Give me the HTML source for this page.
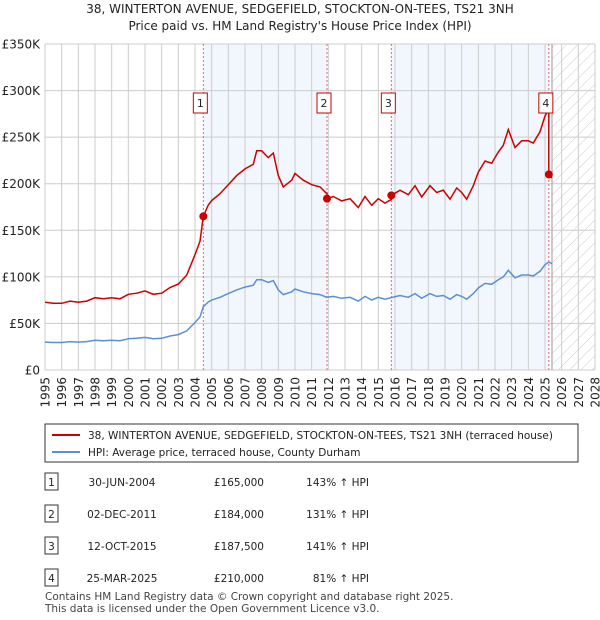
<!DOCTYPE html>
<html><head><meta charset="utf-8"><style>
body{margin:0;background:#fff;font-family:"DejaVu Sans","Liberation Sans",sans-serif;}
svg{display:block}
</style></head><body>
<svg id="chart" width="600" height="620">
<defs>
<pattern id="hatch" width="8" height="8" patternUnits="userSpaceOnUse" patternTransform="rotate(45)">
<line x1="0" y1="0" x2="0" y2="8" stroke="#ccc" stroke-width="1"/>
</pattern>
</defs>
<text x="300" y="13" text-anchor="middle" font-size="12" fill="#222">38, WINTERTON AVENUE, SEDGEFIELD, STOCKTON-ON-TEES, TS21 3NH</text>
<text x="300" y="30" text-anchor="middle" font-size="12" fill="#222">Price paid vs. HM Land Registry's House Price Index (HPI)</text>
<g id="plot"></g>
<g>
<rect x="45" y="424" width="533" height="38" fill="#fff" stroke="#333" stroke-width="1"/>
<line x1="52" y1="435" x2="80" y2="435" stroke="#cc0000" stroke-width="2"/>
<text x="88" y="439" font-size="10.5" fill="#222">38, WINTERTON AVENUE, SEDGEFIELD, STOCKTON-ON-TEES, TS21 3NH (terraced house)</text>
<line x1="52" y1="452" x2="80" y2="452" stroke="#5b8fd4" stroke-width="2"/>
<text x="88" y="456" font-size="10.5" fill="#222">HPI: Average price, terraced house, County Durham</text>
</g>
<g id="table" font-size="10.5" fill="#222"></g>
<text x="45" y="600" font-size="10.5" fill="#444">Contains HM Land Registry data © Crown copyright and database right 2025.</text>
<text x="45" y="612" font-size="10.5" fill="#444">This data is licensed under the Open Government Licence v3.0.</text>
</svg>
<script>
const hpiYears=[1995,1995.5,1996,1996.5,1997,1997.5,1998,1998.5,1999,1999.5,2000,2000.5,2001,2001.5,2002,2002.5,2003,2003.5,2004,2004.3,2004.5,2004.8,2005,2005.5,2006,2006.5,2007,2007.5,2007.7,2008,2008.4,2008.7,2009,2009.3,2009.8,2010,2010.5,2011,2011.5,2011.9,2012.3,2012.8,2013.3,2013.8,2014.2,2014.6,2015,2015.4,2015.8,2016.3,2016.8,2017.2,2017.6,2018.1,2018.5,2018.9,2019.3,2019.7,2020,2020.3,2020.7,2021,2021.4,2021.8,2022.2,2022.5,2022.8,2023.2,2023.6,2024,2024.3,2024.7,2025,2025.23,2025.42];
const hpiValues=[30,29.5,29.5,30.5,30,30.5,32,31.5,32,31.5,33.5,34,35,33.5,34,36.5,38,42,51,57,68,73,75,78,82,86,89,91,97,97,94,96,86,81,84,87,84,82,81,78,79,77,78,74,79,75,78,76,77.8,80,78,82,77,82,79,80,76,81,79,76,82,88,93,92,97,100,107,99,102,102,101,106,113,116,114];
const saleLabels=["1","2","3","4"];
const saleYears=[2004.5,2011.92,2015.78,2025.23];
const salePrices=[165000,184000,187500,210000];
const saleDates=["30-JUN-2004","02-DEC-2011","12-OCT-2015","25-MAR-2025"];
const salePriceText=["£165,000","£184,000","£187,500","£210,000"];
const saleHpiText=["143% ↑ HPI","131% ↑ HPI","141% ↑ HPI","81% ↑ HPI"];
const yTicks=[0,50,100,150,200,250,300,350];
const yTickLabels=["£0","£50K","£100K","£150K","£200K","£250K","£300K","£350K"];

const NS="http://www.w3.org/2000/svg";
const X0=45,X1=595,Y0=370,Y1=44,YR0=1995,YR1=2028,VMAX=350;
const xs=y=>X0+(y-YR0)/(YR1-YR0)*(X1-X0);
const ys=v=>Y0-v/VMAX*(Y0-Y1);
function mk(tag,attrs,parent){const e=document.createElementNS(NS,tag);for(const k in attrs)e.setAttribute(k,attrs[k]);parent.appendChild(e);return e;}
const plot=document.getElementById('plot');
function hpiAt(t){for(let i=0;i<hpiYears.length-1;i++){if(t>=hpiYears[i]&&t<=hpiYears[i+1]){const f=(t-hpiYears[i])/(hpiYears[i+1]-hpiYears[i]);return hpiValues[i]+f*(hpiValues[i+1]-hpiValues[i]);}}return hpiValues[hpiValues.length-1];}
for(let i=0;i<saleYears.length;i+=2){
 const end=i+1<saleYears.length?saleYears[i+1]:hpiYears[hpiYears.length-1];
 const r=mk('rect',{x:xs(saleYears[i]),y:Y1,width:xs(end)-xs(saleYears[i]),height:Y0-Y1,fill:'#eef3fc',opacity:0.75},plot);
 
 
}
const lastYr=hpiYears[hpiYears.length-1];
const ht=mk('rect',{x:xs(lastYr),y:Y1,width:X1-xs(lastYr),height:Y0-Y1,fill:'url(#hatch)'},plot);


for(let yr=YR0;yr<=YR1;yr++){
 const l=mk('line',{x1:xs(yr),x2:xs(yr),y1:Y1,y2:Y0,stroke:'#ccc','stroke-width':1},plot);
 
 
 const t=mk('text',{x:0,y:0,'font-size':12,fill:'#222','text-anchor':'end',transform:`translate(${xs(yr)+4.5},377) rotate(-90)`},plot);
 t.textContent=yr;
 
 
}
yTicks.forEach((v,i)=>{
 const l=mk('line',{x1:X0,x2:X1,y1:ys(v),y2:ys(v),stroke:'#ccc','stroke-width':1},plot);
 
 
 const t=mk('text',{x:40,y:ys(v)+4.5,'font-size':12,fill:'#222','text-anchor':'end'},plot);
 t.textContent=yTickLabels[i];
 
 
});
const dl=mk('line',{x1:xs(lastYr),x2:xs(lastYr),y1:Y1,y2:Y0,stroke:'#999','stroke-width':1},plot);


saleYears.forEach(s=>{
 const l=mk('line',{x1:xs(s),x2:xs(s),y1:Y1,y2:Y0,stroke:'#f06070','stroke-width':1,'stroke-dasharray':'2,2'},plot);
 
 
});
const hp=mk('path',{d:hpiYears.map((y,i)=>(i?'L':'M')+xs(y).toFixed(1)+','+ys(hpiValues[i]).toFixed(1)).join(''),fill:'none',stroke:'#5b8fd4','stroke-width':1.5},plot);


const factors=saleYears.map((s,i)=>salePrices[i]/1000/hpiAt(s));
let pts=[];
const allT=[...hpiYears,...saleYears].sort((a,b)=>a-b);
allT.forEach(t=>{let k=0;for(let i=0;i<saleYears.length;i++)if(t>=saleYears[i])k=i;
 if(saleYears.includes(t)&&saleYears.indexOf(t)>0){const p=saleYears.indexOf(t);pts.push([t,hpiAt(t)*factors[p-1]]);}
 pts.push([t,hpiAt(t)*factors[k]]);});
const rp=mk('path',{d:pts.map((p,i)=>(i?'L':'M')+xs(p[0]).toFixed(1)+','+ys(p[1]).toFixed(1)).join(''),fill:'none',stroke:'#cc0000','stroke-width':1.5},plot);


saleYears.forEach((s,i)=>{
 const c=mk('circle',{cx:xs(s),cy:ys(salePrices[i]/1000),r:4,fill:'#cc0000'},plot);
 
 
 const bx=xs(s)-10;
 const r=mk('rect',{x:bx,y:93,width:14,height:20,fill:'#fff',stroke:'#cc0000','stroke-width':1},plot);
 
 
 const t=mk('text',{x:bx+7,y:107,'font-size':11,fill:'#222','text-anchor':'middle'},plot);
 t.textContent=saleLabels[i];
 
 
});
const tb=document.getElementById('table');
saleLabels.forEach((lab,i)=>{
 const y=482+i*32;
 const r=mk('rect',{x:45,y:y-9,width:13,height:17,fill:'#fff',stroke:'#333','stroke-width':1},tb);
 
 
 const vals=[[lab,51.5,'middle'],[saleDates[i],122,'middle'],[salePriceText[i],264,'end'],[saleHpiText[i],369,'end']];
 vals.forEach(v=>{const t=mk('text',{x:v[1],y:y+4,'text-anchor':v[2],'font-size':10.5,fill:'#222'},tb);t.textContent=v[0];
  
  });
});
</script>
</body></html>
